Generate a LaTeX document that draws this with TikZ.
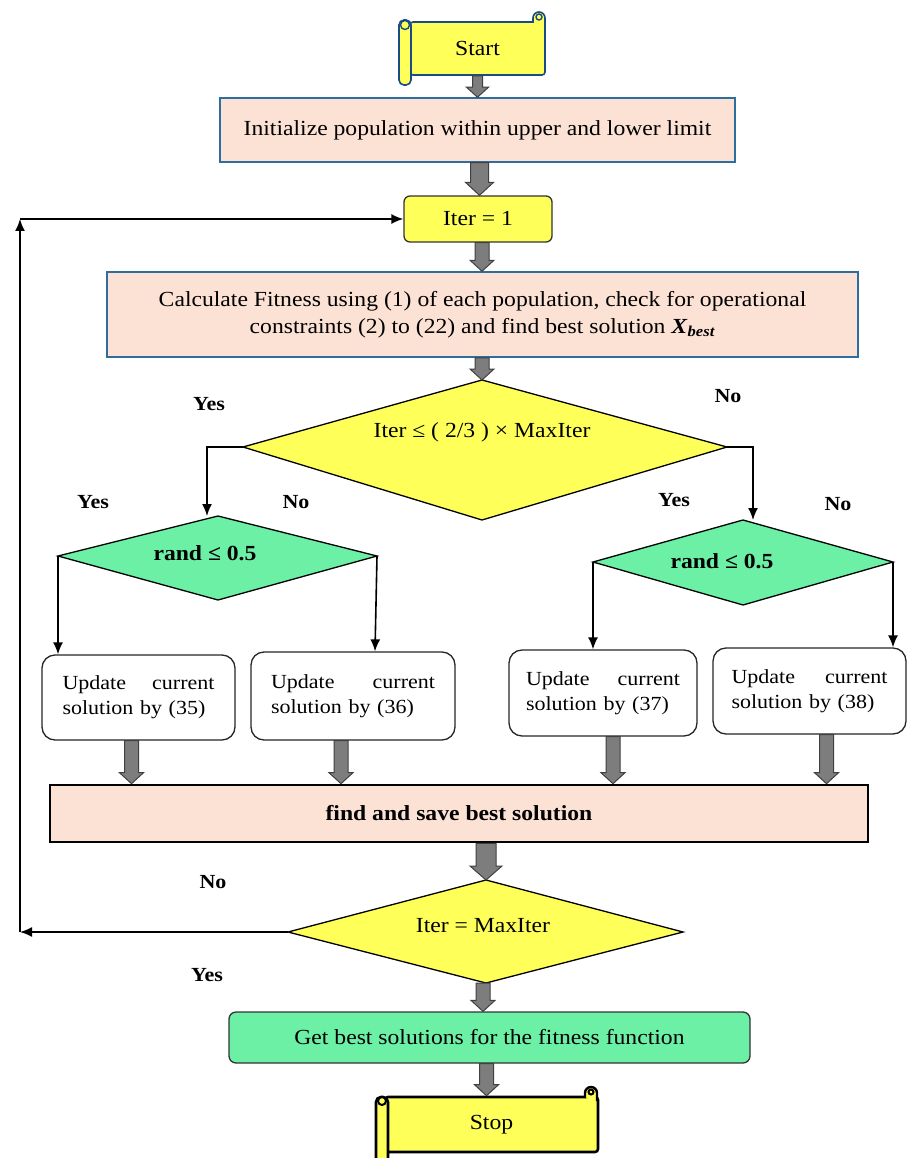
\documentclass[tikz,border=0pt]{standalone}
\usepackage{fontspec}
\setmainfont{Liberation Serif}[FakeStretch=1.1]
\usetikzlibrary{calc,arrows.meta}
\definecolor{yel}{RGB}{255,255,90}
\definecolor{peach}{RGB}{252,226,213}
\definecolor{grn}{RGB}{108,240,166}
\definecolor{bord}{RGB}{46,110,158}
\definecolor{startb}{RGB}{25,75,135}
\definecolor{agray}{RGB}{125,125,125}
\newcommand{\barrow}[5]{\path[barrowstyle] let \p1=#4, \p2=#5 in (\x1-#1,\y1) -- (\x1+#1,\y1) -- (\x1+#1,\y2+#3) -- (\x1+#2,\y2+#3) -- (\x1,\y2) -- (\x1-#2,\y2+#3) -- (\x1-#1,\y2+#3) -- cycle;}
\tikzset{
  barrowstyle/.style={draw=black!75,fill=agray,line width=1pt},
  conn/.style={line width=1.6pt,-{Latex[length=12pt,width=10pt]}},
  mainfont/.style={font=\fontsize{21.5}{27}\selectfont},
  procbox/.style={draw=bord,fill=peach,line width=1.5pt,mainfont,inner sep=0pt},
  yelbox/.style={draw=black!80,fill=yel,line width=1.3pt,rounded corners=6pt,mainfont,inner sep=0pt},
  updbox/.style={draw=black!85,fill=white,line width=1.3pt,rounded corners=13pt,align=left,
     font=\fontsize{20}{25}\selectfont,inner ysep=0pt},
  lbl/.style={font=\fontsize{20}{24}\selectfont\bfseries,inner sep=0pt},
  dmtext/.style={mainfont,inner sep=0pt},
}
\begin{document}
\begin{tikzpicture}[x=1pt,y=-1pt]
\useasboundingbox (0,0) rectangle (907,1158);

% Start scroll
\node[draw=startb,fill=yel,line width=1.6pt,rounded corners=3pt,minimum width=135,minimum height=53,mainfont,inner sep=0pt] (start) at (477.5,48.5) {Start};
\draw[draw=startb,fill=yel,line width=1.6pt] (533,23) -- (533,18) arc (180:360:6) -- (545,26);
\draw[draw=startb,fill=yel,line width=1.4pt] (539,17) circle (3);
\draw[draw=startb,fill=yel,line width=1.6pt,rounded corners=5pt] (399,20) rectangle (411,85);
\draw[draw=startb,fill=yel,line width=1.4pt] (405,25) circle (4.5);

% Init
\node[procbox,minimum width=515,minimum height=64] (init) at (477.5,130) {Initialize population within upper and lower limit};

% Iter = 1
\node[yelbox,minimum width=148,minimum height=46] (iter) at (478,219) {Iter = 1};

% Calculate
\node[procbox,minimum width=751,minimum height=85,align=center] (calc) at (482.5,314.5)
  {Calculate Fitness using (1) of each population, check for operational\\
   constraints (2) to (22) and find best solution \textbf{\textit{X}}\textsubscript{\textbf{\textit{best}}}};

% Big diamond
\coordinate (d1t) at (482,380);
\coordinate (d1b) at (482,520);
\coordinate (d1l) at (243,447);
\coordinate (d1r) at (727,447);
\draw[fill=yel,draw=black,line width=1.3pt] (d1t) -- (d1r) -- (d1b) -- (d1l) -- cycle;
\node[dmtext] (t1) at (482,432) {Iter ≤ ( 2/3 ) × MaxIter};

% Left small diamond
\coordinate (dlt) at (218,516);
\coordinate (dlb) at (218,600);
\coordinate (dll) at (58,556);
\coordinate (dlr) at (377,556);
\draw[fill=grn,draw=black,line width=1.3pt] (dlt) -- (dlr) -- (dlb) -- (dll) -- cycle;
\node[dmtext,font=\fontsize{21.5}{27}\selectfont\bfseries] (tl) at (205,553) {rand ≤ 0.5};

% Right small diamond
\coordinate (drt) at (743,520);
\coordinate (drb) at (743,605);
\coordinate (drl) at (593,562);
\coordinate (drr) at (893,562);
\draw[fill=grn,draw=black,line width=1.3pt] (drt) -- (drr) -- (drb) -- (drl) -- cycle;
\node[dmtext,font=\fontsize{21.5}{27}\selectfont\bfseries] (tr) at (722,561) {rand ≤ 0.5};

% Update boxes
\node[updbox,text width=152,inner xsep=20.5,minimum height=85] (u35) at (138.5,697.5) {Update\hfill current\\solution by (35)};
\node[updbox,text width=164,inner xsep=20,minimum height=88] (u36) at (353,696) {Update\hfill current\\solution by (36)};
\node[updbox,text width=154,inner xsep=17,minimum height=86] (u37) at (603,693) {Update\hfill current\\solution by (37)};
\node[updbox,text width=156,inner xsep=18.5,minimum height=86] (u38) at (809.5,691) {Update\hfill current\\solution by (38)};

% Save
\node[draw=black,fill=peach,line width=2.6pt,minimum width=818,minimum height=57,inner sep=0pt,
  font=\fontsize{21.5}{27}\selectfont\bfseries] (save) at (459,813.5) {find and save best solution};

% Diamond 2
\coordinate (d2t) at (486,880);
\coordinate (d2b) at (486,983);
\coordinate (d2l) at (288,932);
\coordinate (d2r) at (683,932);
\draw[fill=yel,draw=black,line width=1.3pt] (d2t) -- (d2r) -- (d2b) -- (d2l) -- cycle;
\node[dmtext] (t2) at (483,926) {Iter = MaxIter};

% Get best
\node[draw=black!80,fill=grn,line width=1.3pt,rounded corners=7pt,minimum width=521,minimum height=51,mainfont,inner sep=0pt] (getbest) at (489.5,1037.5) {Get best solutions for the fitness function};

% Stop scroll
\node[draw=black,fill=yel,line width=2.6pt,rounded corners=3pt,minimum width=213,minimum height=55,mainfont,inner sep=0pt] (stop) at (491.5,1124.5) {Stop};
\draw[draw=black,fill=yel,line width=2.4pt] (585,1098) -- (585,1093) arc (180:360:6) -- (597,1101);
\draw[draw=black,fill=yel,line width=2pt] (591,1092) circle (2.5);
\draw[draw=black,fill=yel,line width=2.6pt,rounded corners=5pt] (376,1097) rectangle (388,1175);
\draw[draw=black,fill=yel,line width=2pt] (382,1101) circle (4);

% Block arrows
\barrow{5}{11}{10}{(start.south)}{(init.north)}
\barrow{9}{14}{13}{([xshift=2pt]init.south)}{([xshift=2pt]iter.north)}
\barrow{7}{12}{11}{([xshift=4pt]iter.south)}{([xshift=4pt]iter.south |- calc.north)}
\barrow{7}{12}{11}{(calc.south -| d1t)}{(d1t)}
\barrow{7}{12}{11}{([xshift=-7pt]u35.south)}{([xshift=-7pt]u35.south |- save.north)}
\barrow{7}{12}{11}{([xshift=-12pt]u36.south)}{([xshift=-12pt]u36.south |- save.north)}
\barrow{7}{12}{11}{([xshift=10pt]u37.south)}{([xshift=10pt]u37.south |- save.north)}
\barrow{7}{12}{11}{([xshift=17pt]u38.south)}{([xshift=17pt]u38.south |- save.north)}
\barrow{10}{16}{14}{(save.south -| d2t)}{(d2t)}
\barrow{7}{12}{11}{([xshift=-3pt]d2b)}{([xshift=-3pt]getbest.north -| d2b)}
\barrow{7}{12}{11}{([xshift=-3pt]getbest.south)}{([xshift=-3pt]getbest.south |- stop.north)}

% Thin connectors
\coordinate (bl) at (207,447);
\coordinate (br) at (753,447);
\coordinate (x36) at (375,556);
\draw[conn] (d1l) -- (bl) -- (bl |- dlt);
\draw[conn] (d1r) -- (br) -- (br |- drt);
\draw[conn] (dll) -- (dll |- u35.north);
\draw[conn] (dlr) -- (x36 |- u36.north);
\draw[conn] (drl) -- (drl |- u37.north);
\draw[conn] (drr) -- (drr |- u38.north);

% Loop back
\coordinate (lc1) at (20,932);
\coordinate (lc2) at (20,219);
\draw[conn] (d2l) -- (lc1);
\draw[conn] (lc1) -- (lc2);
\draw[conn] (lc2) -- (iter.west);

% Labels
\node[lbl] (y1) at (209,404) {Yes};
\node[lbl] (n1) at (728,396) {No};
\node[lbl] (y2) at (93,502) {Yes};
\node[lbl] (n2) at (296,502) {No};
\node[lbl] (y3) at (674,500) {Yes};
\node[lbl] (n3) at (838,504) {No};
\node[lbl] (n4) at (213,882) {No};
\node[lbl] (y4) at (207,975) {Yes};
\end{tikzpicture}
\end{document}
